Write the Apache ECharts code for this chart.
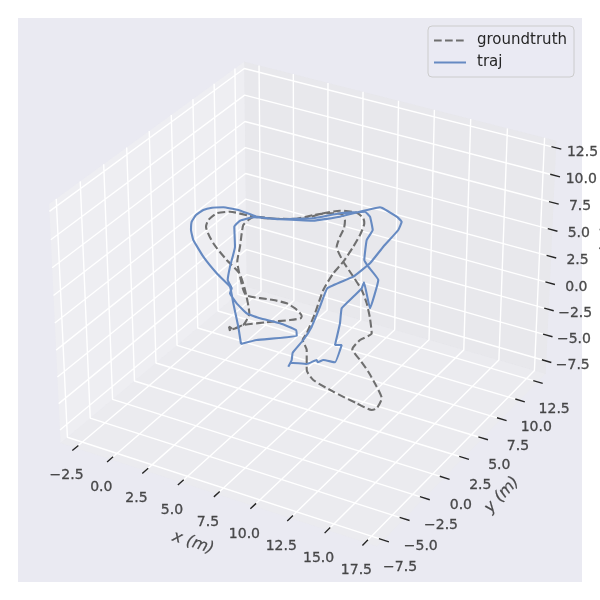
<!DOCTYPE html>
<html>
<head>
<meta charset="utf-8">
<style>html,body{margin:0;padding:0;background:#fff}#c{width:600px;height:600px}</style>
<script src="https://cdn.jsdelivr.net/npm/echarts@6/dist/echarts.min.js"></script>
</head>
<body>
<div id="c"></div>
<script>
// Tick values (metres)
const xTicks = [-2.5, 0, 2.5, 5, 7.5, 10, 12.5, 15, 17.5];
const yTicks = [-7.5, -5, -2.5, 0, 2.5, 5, 7.5, 10, 12.5];
const zTicks = [-7.5, -5, -2.5, 0, 2.5, 5, 7.5, 10, 12.5];
const xLim = [-3.15, 17.85];
const yLim = [-7.8, 13.2];
const zLim = [-8.3, 12.7];

// Trajectories in its projected plane
const gtU = [230,229,233,243.3,266.7,290,300.7,301.7,295,286.7,273.3,246.7,243.3,239.3,237.3,240,241.7,243.3,248.3,255,280,306.7,320,340,356.7,363.3,364.3,360,353.3,343.3,333.3,323.3,315,306.7,302.7,306.7,306.7,313.3,333.3,356.7,371.7,376.7,381.7,376.7,368.3,360,352.3,360,371.7,370,366.7,361.7,353.3,343.3,336.7,340,344,345,341.7,326.7,313.3,293.3,266.7,250,230,216.7,208.3,206,213.3,226.7,239.3,245,249.3,243.3,230];
const gtV = [331,326.7,329,325,322.3,320,318.3,316,308.3,303.3,300,295.7,290,273.3,261.7,246.7,233.3,225,220,216.7,219,218.3,214,210.7,212.7,218.3,223.3,235,246.7,261.7,273.3,290,313.3,333.3,340,350,370,380,391.7,403.3,410,408.3,398.3,386.7,371.7,360,349.3,340,333.3,318.3,303.3,290,276.7,261.7,246.7,236.7,228.3,220,214,213.3,215,219,218.3,216,211.7,213.3,220,226.7,243.3,260,273.3,290,313.3,325,330];
const trajU = [241,256.7,296.7,296,280,260,246.7,236.7,230,231.7,227.7,230,235,234.3,240,253.3,280,313.3,340,380,396.7,401.7,398.3,383.3,370,353.3,327.3,320,311.7,303.3,292.7,291.7,288.3,290.7,306.7,316.7,317.7,323.3,335,341.7,335,340,341.7,353.3,361.7,364,370,378.3,368.3,364.3,366.7,372.7,370,365,340,313.3,280,256.7,238.3,223.3,212,203.3,196,191.7,191,193.3,203.3,216.7,230,233.3,238.3,241];
const trajV = [344,340,336,330,323.3,318.3,313.3,303.3,293.3,288.3,280,266.7,246.7,226.7,220.7,217.3,219.3,220.7,216.7,207.3,216.7,221.7,230,246.7,263.3,276.7,288.3,306.7,326.7,340,352.7,360,366.7,362.7,364,360,362.3,360,362.3,345,345,323.3,308.3,296.7,288.3,282.3,308.3,280,266.7,260,240,230,216.7,211.7,213.3,218.3,219.3,216.7,210,207.3,207.8,210,215,221.7,230,240,256.7,273.3,286.7,303.3,326.7,344];

const FONT = '"DejaVu Sans"';
const INK = '#262626';
const fmt = v => v.toFixed(1).replace('-', '\u2212');

// mplot3d-style camera: azim -60, elev 30, dist 10, box 4:4:3
const azim = -60 * Math.PI / 180, elev = 30 * Math.PI / 180, dist = 10;
const scale0 = 1.8294640721620434 / Math.hypot(4, 4, 3);
const box = [4 * scale0, 4 * scale0, 3 * scale0];
const R = box.map(b => b / 2);
const dirV = [Math.cos(elev) * Math.cos(azim), Math.cos(elev) * Math.sin(azim), Math.sin(elev)];
const eye = R.map((r, i) => r + dist * dirV[i]);
const cross = (a, b) => [a[1]*b[2]-a[2]*b[1], a[2]*b[0]-a[0]*b[2], a[0]*b[1]-a[1]*b[0]];
const dot = (a, b) => a[0]*b[0]+a[1]*b[1]+a[2]*b[2];
const w = dirV;
let u = cross([0,0,1], w); const un = Math.hypot(...u); u = u.map(c => c/un);
const v = cross(w, u);
const PX = 564 / 0.185;
function proj(x, y, z) {
  const p = [
    (x - xLim[0]) / (xLim[1] - xLim[0]) * box[0] - eye[0],
    (y - yLim[0]) / (yLim[1] - yLim[0]) * box[1] - eye[1],
    (z - zLim[0]) / (zLim[1] - zLim[0]) * box[2] - eye[2]
  ];
  const d = -dot(w, p);
  return [18 + PX * (0.095 + dot(u, p) / d), 18 + PX * (0.09 - dot(v, p) / d)];
}
const padOf = l => (l[1] - l[0]) / 48;
const X0 = xLim[0] - padOf(xLim), X1 = xLim[1] + padOf(xLim);
const Y0 = yLim[0] - padOf(yLim), Y1 = yLim[1] + padOf(yLim);
const Z0 = zLim[0] - padOf(zLim), Z1 = zLim[1] + padOf(zLim);

const panes = [
  { c: 'rgba(242,242,242,0.5)', pts: [[X0,Y0,Z0],[X0,Y1,Z0],[X0,Y1,Z1],[X0,Y0,Z1]] },
  { c: 'rgba(230,230,230,0.5)', pts: [[X0,Y1,Z0],[X1,Y1,Z0],[X1,Y1,Z1],[X0,Y1,Z1]] },
  { c: 'rgba(236,236,236,0.5)', pts: [[X0,Y0,Z0],[X1,Y0,Z0],[X1,Y1,Z0],[X0,Y1,Z0]] }
];

// Grid paths, separated by gaps
const gridPts = [];
const addPath = a => { a.forEach(p => gridPts.push(proj(p[0], p[1], p[2]))); gridPts.push(['-', '-']); };
xTicks.forEach(t => addPath([[t,Y0,Z0],[t,Y1,Z0],[t,Y1,Z1]]));
yTicks.forEach(t => addPath([[X1,t,Z0],[X0,t,Z0],[X0,t,Z1]]));
zTicks.forEach(t => addPath([[X0,Y0,t],[X0,Y1,t],[X1,Y1,t]]));

// Tick marks and tick labels
const tickPts = [], labelPts = [];
const dY = Y1 - Y0, dX = X1 - X0;
const tOut = 0.016, tIn = -0.014;
xTicks.forEach(t => {
  tickPts.push(proj(t, Y0 - tOut*dY, Z0), proj(t, Y0 - tIn*dY, Z0), ['-','-']);
  const c = proj(t, Y0, Z0);
  labelPts.push({ value: [c[0] - 9, c[1] + 28], name: fmt(t) });
});
yTicks.forEach(t => {
  tickPts.push(proj(X1 + tOut*dX, t, Z0), proj(X1 + tIn*dX, t, Z0), ['-','-']);
  const c = proj(X1, t, Z0);
  labelPts.push({ value: [c[0] + 16.5, c[1] + 27.5], name: fmt(t) });
});
zTicks.forEach(t => {
  tickPts.push(proj(X1 + tOut*dX, Y1, t), proj(X1 + tIn*dX, Y1, t), ['-','-']);
  const c = proj(X1, Y1, t);
  labelPts.push({ value: [c[0] + 26.5, c[1] + 4], name: fmt(t) });
});

const axisNames = [
  { value: [193, 543], name: 'x (m)', rot: -18 },
  { value: [502, 495], name: 'y (m)', rot: 47 },
  { value: [607, 247], name: 'z (m)', rot: 88 }
];

const zip = (a, b) => a.map((x, i) => [x, b[i]]);
const hiddenAxis = (inv) => ({ type: 'value', min: 18, max: 582, inverse: inv, show: false });

const chart = echarts.init(document.getElementById('c'), null, { renderer: 'canvas' });
chart.setOption({
  animation: false,
  backgroundColor: '#ffffff',
  grid: { left: 18, right: 18, top: 18, bottom: 18, show: true, backgroundColor: '#EAEAF2', borderWidth: 0 },
  xAxis: hiddenAxis(false),
  yAxis: hiddenAxis(true),
  legend: {
    data: ['groundtruth', 'traj'], orient: 'vertical', left: 428, top: 26,
    itemWidth: 32, itemHeight: 10, itemGap: 7, padding: [7, 7, 7, 5],
    itemStyle: { opacity: 0 },
    backgroundColor: 'rgba(234,234,242,0.8)', borderColor: '#CCCCCC', borderWidth: 1, borderRadius: 4,
    textStyle: { fontFamily: FONT, fontSize: 15, color: INK, padding: [0, 0, 0, 6] }
  },
  series: [
    { type: 'custom', name: 'panes', silent: true, z: 1, coordinateSystem: 'cartesian2d',
      data: panes.map((_, i) => [i, 0]),
      renderItem: (params, api) => {
        const p = panes[params.dataIndex];
        return { type: 'polygon', shape: { points: p.pts.map(q => api.coord(proj(q[0], q[1], q[2]))) }, style: { fill: p.c } };
      } },
    { type: 'line', name: 'grid', silent: true, z: 2, symbol: 'none', data: gridPts, connectNulls: false,
      lineStyle: { color: '#ffffff', width: 1.4 } },
    { type: 'line', name: 'ticks', silent: true, z: 3, symbol: 'none', data: tickPts, connectNulls: false, clip: false,
      lineStyle: { color: INK, width: 1.4 } },
    { type: 'line', name: 'groundtruth', z: 5, symbol: 'none', smooth: 0.2, data: zip(gtU, gtV),
      itemStyle: { color: '#6f6f6f' },
      lineStyle: { color: '#6f6f6f', width: 2.1, type: [7.7, 3.3] } },
    { type: 'line', name: 'traj', z: 6, symbol: 'none', smooth: 0.1, data: zip(trajU, trajV),
      itemStyle: { color: '#668ac2' },
      lineStyle: { color: '#668ac2', width: 2.1 } },
    { type: 'scatter', name: 'tickLabels', silent: true, z: 7, symbolSize: 0, clip: false, data: labelPts,
      label: { show: true, position: 'inside', formatter: p => p.name, fontFamily: FONT, fontSize: 14, color: INK, textBorderColor: INK, textBorderWidth: 0.3, align: 'center', verticalAlign: 'middle' } },
    { type: 'scatter', name: 'axisNames', silent: true, z: 7, symbolSize: 0, clip: false,
      data: axisNames.map(a => ({ value: a.value, name: a.name,
        label: { show: true, position: 'inside', rotate: a.rot, formatter: a.name, fontFamily: FONT, fontSize: 16, fontStyle: 'oblique', color: INK, textBorderColor: INK, textBorderWidth: 0.2, align: 'center', verticalAlign: 'middle' } })) }
  ]
});
</script>
</body>
</html>
